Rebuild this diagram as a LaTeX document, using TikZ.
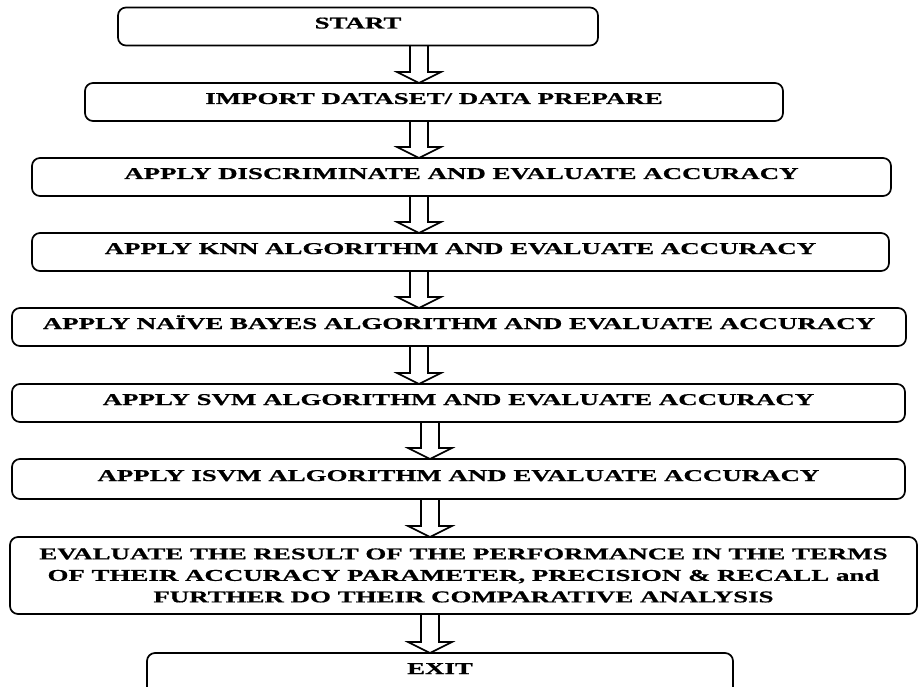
\documentclass[tikz,border=0pt]{standalone}
\usepackage{fontspec}
\newfontfamily\flowfont{Liberation Serif}[FakeStretch=1.63,FakeBold=0.8]
\usetikzlibrary{positioning}
\tikzset{
	stepbox/.style={
		rectangle,
		rounded corners=8pt,
		draw=black,
		line width=1.7pt,
		inner sep=0pt,
		outer sep=0pt,
		minimum height=38pt,
		text height=11pt,
		text depth=7pt,
		font=\flowfont\bfseries\fontsize{16.5}{21.5}\selectfont
	},
	hollow/.style={
		draw=black,
		line width=1.6pt,
		line join=miter
	}
}
% open block arrow from the bottom of #1 to the top of #2, at x=#3
\newcommand{\hollowarrow}[3]{%
	\coordinate (ax) at (#3,0);
	\coordinate (as) at (#1.south -| ax);
	\coordinate (at) at (#2.north -| ax);
	\draw[hollow] ([xshift=-9pt]as) -- ([shift={(-9pt,11pt)}]at) -- ([shift={(-22pt,11pt)}]at) -- (at)
		-- ([shift={(22pt,11pt)}]at) -- ([shift={(9pt,11pt)}]at) -- ([xshift=9pt]as);
}

\begin{document}
\begin{tikzpicture}[x=1pt,y=1pt]
		\useasboundingbox (0,0) rectangle (918,-687);
		\clip (0,0) rectangle (918,-687);
		\tikzstyle{lastbox}=[stepbox, text height=, text depth=, align=center, minimum height=77pt]
		
		\node[stepbox, minimum width=480pt] (start) at (358,-26.5) {START};
		\node[stepbox, minimum width=698pt] (imp) [below=37.5pt of start, xshift=76pt] {IMPORT DATASET/ DATA PREPARE};
		\node[stepbox, minimum width=859pt] (disc) [below=37pt of imp, xshift=27.5pt] {APPLY DISCRIMINATE AND EVALUATE ACCURACY};
		\node[stepbox, minimum width=857pt] (knn) [below=37pt of disc, xshift=-1pt] {APPLY KNN ALGORITHM AND EVALUATE ACCURACY};
		\node[stepbox, minimum width=894pt] (naive) [below=37pt of knn, xshift=-1.5pt] {APPLY NAÏVE BAYES ALGORITHM AND EVALUATE ACCURACY};
		\node[stepbox, minimum width=893pt] (svm) [below=38pt of naive, xshift=-0.5pt] {APPLY SVM ALGORITHM AND EVALUATE ACCURACY};
		\node[stepbox, minimum width=893pt, minimum height=40pt] (isvm) [below=37pt of svm] {APPLY ISVM ALGORITHM AND EVALUATE ACCURACY};
		\node[lastbox, minimum width=907pt] (eval) [below=38pt of isvm, xshift=5pt] {EVALUATE THE RESULT OF THE PERFORMANCE IN THE TERMS\\OF THEIR ACCURACY PARAMETER, PRECISION \& RECALL and\\FURTHER DO THEIR COMPARATIVE ANALYSIS};
		% runs past the lower edge of the page
		\node[stepbox, minimum width=586pt, minimum height=46pt, text depth=15pt] (exit) [below=39pt of eval, xshift=-23.5pt] {EXIT};
		
		\foreach \a/\b/\x in {start/imp/419, imp/disc/419, disc/knn/419, knn/naive/419, naive/svm/419, svm/isvm/430, isvm/eval/430, eval/exit/430}
			\hollowarrow{\a}{\b}{\x};
		
\end{tikzpicture}
\end{document}
